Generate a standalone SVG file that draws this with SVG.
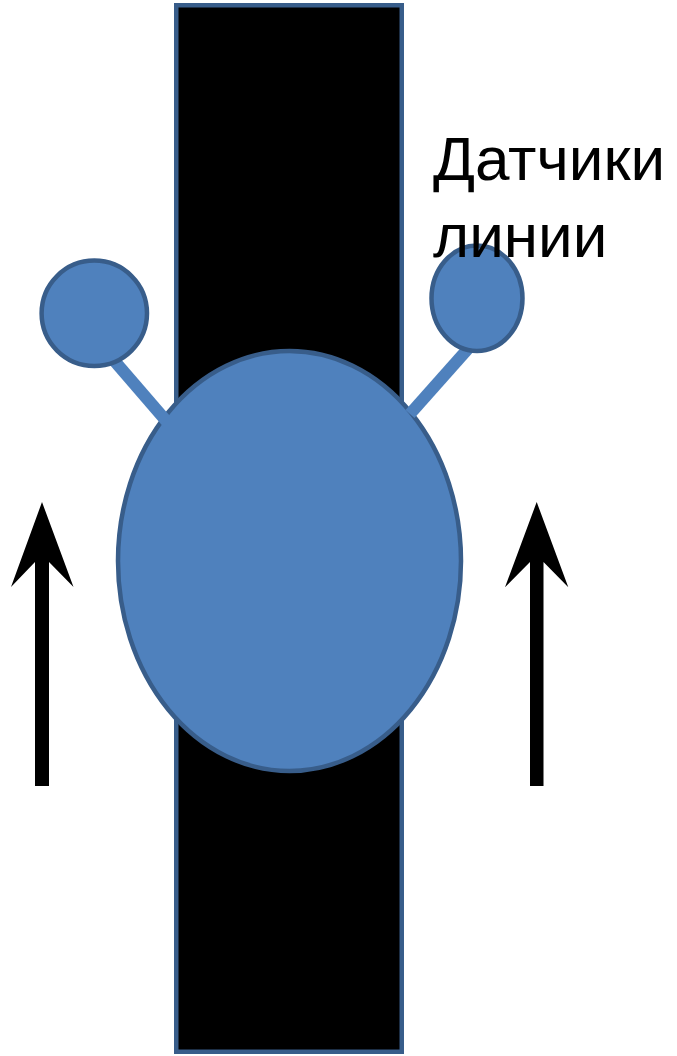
<svg xmlns="http://www.w3.org/2000/svg" width="677" height="1056" viewBox="0 0 677 1056">
<style>
.shape{fill:#4f81bd;stroke:#385d8a;stroke-width:4.5}
.stick{stroke:#4f81bd;stroke-width:12;stroke-linecap:butt}
.arrow{fill:#000}
.label{font-family:"Liberation Sans",Arial,sans-serif;font-size:62px;fill:#000}
</style>
<rect width="677" height="1056" fill="#fff"/>
<g id="line">
<rect x="176.25" y="5.25" width="225.5" height="1046.5" fill="#000" stroke="#385d8a" stroke-width="4.5"/>
</g>
<g id="robot">
<ellipse class="shape" cx="289.5" cy="561" rx="171.5" ry="210"/>
</g>
<g id="connectors">
<line class="stick" x1="105" y1="350" x2="168" y2="423"/>
<line class="stick" x1="474" y1="342" x2="410" y2="414"/>
</g>
<g id="sensor-left">
<ellipse class="shape" cx="94.3" cy="313.3" rx="52.7" ry="52.7"/>
</g>
<g id="sensor-right">
<ellipse class="shape" cx="477" cy="298.3" rx="45.5" ry="52.7"/>
</g>
<g id="arrow-left">
<polygon class="arrow" points="42,502 73.5,587 49,562 49,786 35,786 35,562 11,587"/>
</g>
<g id="arrow-right">
<polygon class="arrow" points="536.7,502 568.3,587.3 543.5,562 543.5,786 530,786 530,562 505,587.3"/>
</g>
<g id="label">
<text class="label" x="433" y="180">Датчики</text>
<text class="label" x="433" y="257">линии</text>
</g>
</svg>
